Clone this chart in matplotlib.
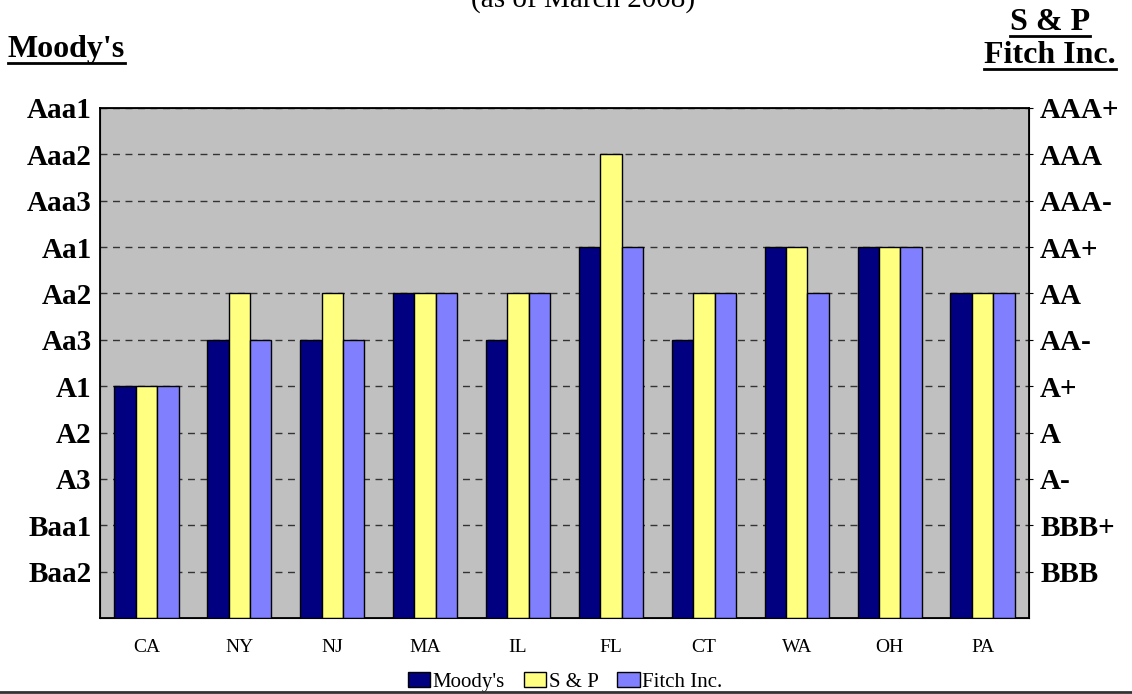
import matplotlib.pyplot as plt
import numpy as np
from matplotlib.lines import Line2D

states = ['CA', 'NY', 'NJ', 'MA', 'IL', 'FL', 'CT', 'WA', 'OH', 'PA']
# rating scale: 1 = Baa2 / BBB ... 11 = Aaa1 / AAA+
moodys = [5, 6, 6, 7, 6, 8, 6, 8, 8, 7]
sp = [5, 7, 7, 7, 7, 10, 7, 8, 8, 7]
fitch = [5, 6, 6, 7, 7, 8, 7, 7, 8, 7]

moodys_labels = ['Baa2', 'Baa1', 'A3', 'A2', 'A1', 'Aa3', 'Aa2', 'Aa1', 'Aaa3', 'Aaa2', 'Aaa1']
sp_labels = ['BBB', 'BBB+', 'A-', 'A', 'A+', 'AA-', 'AA', 'AA+', 'AAA-', 'AAA', 'AAA+']

plt.rcParams['font.family'] = ['Liberation Serif', 'DejaVu Serif']

W, H = 1132, 694
fig = plt.figure(figsize=(W / 100, H / 100), dpi=100)
ax = fig.add_axes([100 / W, 1 - 618 / H, 929 / W, 510 / H])
ax.set_facecolor('#C0C0C0')

x = np.arange(len(states))
w = 0.23
ax.bar(x - w, moodys, w, color='#000080', edgecolor='black', linewidth=1, label="Moody's", zorder=3)
ax.bar(x, sp, w, color='#FFFF80', edgecolor='black', linewidth=1, label='S & P', zorder=3)
ax.bar(x + w, fitch, w, color='#8080FF', edgecolor='black', linewidth=1, label='Fitch Inc.', zorder=3)

ax.set_xlim(-0.5, len(states) - 0.5)
ax.set_ylim(0, 11)
ax.set_xticks(x)
ax.set_xticklabels(states, fontsize=14)
ax.tick_params(axis='x', length=0, pad=15)

levels = np.arange(1, 12)
ax.set_yticks(levels)
ax.set_yticklabels(moodys_labels, fontsize=21, fontweight='bold')
ax.tick_params(axis='y', length=0, pad=6)
ax.yaxis.grid(True, linestyle=(0, (5, 4)), color='#333333', linewidth=1, zorder=1)
for s in ax.spines.values():
    s.set_linewidth(1.3)

ax2 = ax.twinx()
ax2.set_ylim(0, 11)
ax2.set_yticks(levels)
ax2.set_yticklabels(sp_labels, fontsize=21, fontweight='bold')
ax2.tick_params(axis='y', length=3, pad=5)

ax.legend(loc='center', bbox_to_anchor=(565 / W, 1 - 682 / H), bbox_transform=fig.transFigure,
          ncol=3, frameon=False, fontsize=15, handlelength=1.1, handleheight=0.75,
          handletextpad=0.1, columnspacing=0.9, borderpad=0)

fig.text(583 / W, 1 - 8 / H, '(as of March 2008)', ha='center', va='baseline', fontsize=21)

heads = [
    ("Moody's", 8 / W, 57, 'left'),
    ('S & P', 1050 / W, 30, 'center'),
    ('Fitch Inc.', 1050 / W, 63, 'center'),
]
fig.canvas.draw()
r = fig.canvas.get_renderer()
for txt, hx, base, ha in heads:
    t = fig.text(hx, 1 - base / H, txt, ha=ha, va='baseline', fontsize=23, fontweight='bold')
    bb = t.get_window_extent(renderer=r)
    uy = 1 - (base + 6) / H
    fig.add_artist(Line2D([bb.x0 / W, bb.x1 / W], [uy, uy], color='black', linewidth=2,
                          transform=fig.transFigure))

fig.add_artist(Line2D([0, 1], [1 - 692 / H, 1 - 692 / H], color='#333333', linewidth=2,
                      transform=fig.transFigure))

fig.savefig('out.png', dpi=100)
